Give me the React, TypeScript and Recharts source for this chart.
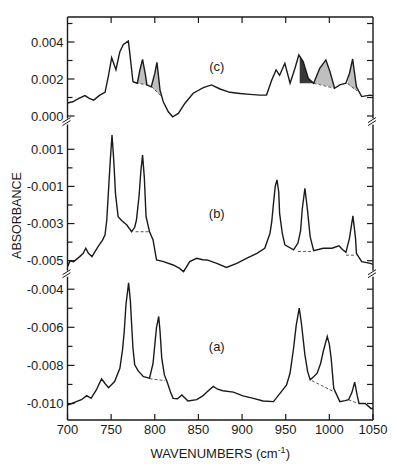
import { ComposedChart, Line, Area, XAxis, YAxis, ReferenceDot, Label } from 'recharts';

// absorbance values are in units of 0.001, wavenumbers in cm-1

// (c) top trace
const waveC = [700, 706, 713, 720, 725, 730, 737, 743, 747, 750.6, 755.5, 760, 764, 769.7, 771.6, 775, 780, 783, 786, 789, 791, 796, 800, 802.5, 806, 809.7, 815.5, 820.5, 827, 834.6, 844, 855.6, 865, 874.7, 886, 897.6, 909, 920.5, 928, 934, 939, 943, 949, 955, 960.6, 965, 970, 975.8, 982, 989, 996, 1000.7, 1006, 1012, 1019, 1023, 1026.7, 1031, 1037, 1046.5, 1050];
const absC = [0.7, 0.77, 0.95, 1.1, 0.95, 0.86, 1.13, 1.28, 2.2, 3.15, 2.5, 3.48, 3.87, 4.05, 3.3, 1.85, 1.77, 2.5, 3.06, 2.3, 1.68, 1.58, 2.3, 2.9, 1.4, 0.77, 0.23, -0.04, 0.14, 0.69, 1.23, 1.53, 1.68, 1.46, 1.28, 1.22, 1.17, 1.13, 1.13, 1.95, 2.49, 2.2, 2.85, 1.77, 2.58, 3.3, 2.94, 2.04, 1.77, 2.58, 3.03, 2.4, 1.5, 1.68, 1.77, 2.3, 3.08, 1.58, 1.05, 1.13, 1.1];

// (b) middle trace
const waveB = [700, 703, 707, 714, 718, 721, 724, 728, 735, 740, 743, 745, 747, 749, 751, 753, 755, 758, 762, 768, 773.5, 777, 779, 782, 784, 786, 788, 790, 794, 798, 802, 810, 821, 828, 833, 840, 848, 855, 860, 871, 882, 894, 905, 917, 926, 932, 934, 936, 938, 940, 942, 943, 946, 949, 959, 964, 967, 969, 972, 975, 978, 982, 993, 1003, 1011, 1015, 1019, 1023, 1027, 1030, 1031, 1037, 1047, 1050];
const absB = [-5.32, -5.0, -5.05, -4.78, -4.6, -4.33, -4.6, -4.78, -4.24, -3.9, -3.61, -2.81, -1.2, 0.4, 1.77, 0.4, -1.4, -2.63, -2.84, -3.08, -3.44, -3.2, -2.81, -1.5, -0.2, 0.69, -0.5, -2.63, -3.44, -3.88, -4.96, -5.05, -5.23, -5.4, -5.59, -5.05, -4.87, -4.95, -4.96, -5.14, -5.36, -5.14, -4.87, -4.6, -4.33, -3.52, -2.9, -1.91, -1.0, -0.65, -1.3, -2.45, -3.5, -4.15, -4.42, -4.05, -3.4, -2.2, -1.1, -2.3, -3.7, -4.46, -4.33, -4.33, -4.2, -4.4, -4.55, -3.8, -2.59, -3.8, -4.6, -5.05, -5.14, -5.2];

// (a) bottom trace
const waveA = [700, 705, 710, 716, 722, 727, 733, 739, 743, 747, 754, 760, 763, 765, 767, 770, 772, 773.5, 775, 777, 781, 787, 794, 798, 800, 802, 804.5, 806, 808, 811, 814, 818, 821, 826, 831, 838, 848, 855, 860, 867, 872, 878, 890, 901, 913, 924, 936, 945, 951, 955, 959, 962, 965.5, 968, 972, 975, 978, 982, 986, 990, 993, 997.6, 1000, 1002, 1005, 1012, 1018, 1022, 1026, 1029, 1032, 1034, 1041, 1048, 1050];
const absA = [-10.08, -10.0, -9.9, -9.8, -9.59, -9.73, -9.29, -8.71, -8.95, -9.17, -8.85, -8.15, -7.2, -6.22, -4.8, -3.67, -4.6, -5.87, -7.1, -7.97, -8.29, -8.59, -8.67, -7.9, -6.92, -6.0, -5.43, -6.2, -7.62, -8.5, -8.85, -9.4, -9.73, -9.75, -9.55, -9.87, -9.8, -9.6, -9.38, -9.1, -9.25, -9.33, -9.4, -9.6, -9.73, -9.87, -9.9, -9.38, -9.03, -8.4, -7.1, -5.9, -4.99, -5.8, -7.45, -8.3, -8.76, -8.6, -8.41, -7.9, -7.27, -6.48, -6.9, -7.6, -9.2, -9.9, -9.85, -9.8, -9.4, -8.88, -9.6, -10.0, -10.0, -10.27, -10.25];

// dashed baselines under the peaks: [wavenumber, absorbance] end points
const baseC = [[[778, 1.8], [791, 1.68]], [[796, 1.6], [808, 1.05]], [[982, 1.77], [1006, 1.5]], [[1021, 1.75], [1032, 1.35]]];
const baseB = [[[778, -3.44], [794, -3.44]], [[964, -4.5], [981, -4.5]], [[1019, -4.7], [1031, -4.7]]];
const baseA = [[[794, -8.7], [812, -8.8]], [[980, -8.8], [1006, -9.4]], [[1022, -9.8], [1033, -10.0]]];

// hatched regions in (c): [wavenumber, lower, upper]
const shadeLight = [
  [[780, 1.77, 1.77], [783, 1.75, 2.5], [786, 1.72, 3.06], [789, 1.7, 2.3], [791, 1.68, 1.68]],
  [[796, 1.58, 1.58], [800, 1.4, 2.3], [802.5, 1.3, 2.9], [806, 1.15, 1.4], [808, 1.05, 1.05]],
  [[982, 1.77, 1.77], [989, 1.71, 2.58], [996, 1.63, 3.03], [1000.7, 1.58, 2.4], [1006, 1.5, 1.5]],
  [[1021, 1.75, 1.75], [1023, 1.65, 2.3], [1026.7, 1.5, 3.08], [1029, 1.42, 2.3], [1032, 1.35, 1.35]],
];
const shadeDark = [
  [[966, 1.77, 3.2], [970, 1.77, 2.94], [975.8, 1.77, 2.04], [982, 1.77, 1.77]],
];

// left axis ticks per panel (units of 0.001) and the labelled ones
const ticksC = [0, 1, 2, 3, 4, 5];
const labelsC = [0, 2, 4];
const ticksB = [-5, -4, -3, -2, -1, 0, 1];
const labelsB = [-5, -3, -1, 1];
const ticksA = [-10, -9, -8, -7, -6, -5, -4];
const labelsA = [-10, -8, -6, -4];
const xTicks = [700, 750, 800, 850, 900, 950, 1000, 1050];

// panel labels: [wavenumber, absorbance]
const tagC = [871, 2.66];
const tagB = [871, -2.43];
const tagA = [871, -7.0];

// each panel is shifted/scaled onto one shared plot axis (0..403)
const panelC = { base: 304, k: 18.5 };
const panelB = { base: 252.15, k: 18.57 };
const panelA = { base: 207, k: 19.05 };
const toD = (p: { base: number; k: number }, v: number) => p.base + v * p.k;

const INK = '#1a1a1a';
const FONT = '"Liberation Sans", Arial, sans-serif';

const series = (w: number[], v: number[], p: any) => w.map((x, i) => ({ w: x, y: toD(p, v[i]) }));
const seg = (pts: number[][], p: any) => pts.map(([x, v]) => ({ w: x, y: toD(p, v) }));
const band = (pts: number[][], p: any) => pts.map(([x, lo, hi]) => ({ w: x, r: [toD(p, lo), toD(p, hi)] }));

type TickInfo = { d: number; label: string | null; brk?: boolean };
const tickInfo: TickInfo[] = [
  ...ticksC.map((t) => ({ d: toD(panelC, t), label: labelsC.includes(t) ? (t / 1000).toFixed(3) : null })),
  ...ticksB.map((t) => ({ d: toD(panelB, t), label: labelsB.includes(t) ? (t / 1000).toFixed(3) : null })),
  ...ticksA.map((t) => ({ d: toD(panelA, t), label: labelsA.includes(t) ? (t / 1000).toFixed(3) : null })),
  { d: toD(panelC, -0.3), label: null, brk: true },
  { d: toD(panelB, -5.7), label: null, brk: true },
];
const yTicks = tickInfo.map((t) => t.d);
const findTick = (v: number) => tickInfo.find((t) => Math.abs(t.d - v) < 1e-6);

function BreakMark({ x, y }: { x: number; y: number }) {
  return (
    <g>
      <rect x={x - 2} y={y - 3} width={4} height={6} fill="#fff" />
      <line x1={x - 5} y1={y + 1} x2={x + 3} y2={y - 4} stroke={INK} strokeWidth={1} />
      <line x1={x - 5} y1={y + 4} x2={x + 3} y2={y - 1} stroke={INK} strokeWidth={1} />
    </g>
  );
}

function LeftTick({ x, y, payload }: any) {
  const t = findTick(payload.value);
  if (!t) return null;
  if (t.brk) return <BreakMark x={x} y={y} />;
  return (
    <g>
      <line x1={x} y1={y} x2={x + (t.label ? 7 : 5)} y2={y} stroke={INK} strokeWidth={1.2} />
      {t.label && (
        <text x={x - 4} y={y} dy="0.36em" textAnchor="end" fontSize={13} fontFamily={FONT} fill={INK}>
          {t.label}
        </text>
      )}
    </g>
  );
}

function RightTick({ x, y, payload }: any) {
  const t = findTick(payload.value);
  if (!t) return null;
  if (t.brk) return <BreakMark x={x} y={y} />;
  return <line x1={x} y1={y} x2={x - 6} y2={y} stroke={INK} strokeWidth={1.2} />;
}

function BottomTick({ x, y, payload }: any) {
  return (
    <g>
      <line x1={x} y1={y} x2={x} y2={y - 6} stroke={INK} strokeWidth={1.2} />
      <text x={x} y={y + 5} dy="0.71em" textAnchor="middle" fontSize={13} fontFamily={FONT} fill={INK}>
        {payload.value}
      </text>
    </g>
  );
}

function TopTick({ x, y }: any) {
  return <line x1={x} y1={y} x2={x} y2={y + 6} stroke={INK} strokeWidth={1.2} />;
}

function XTitle({ viewBox }: any) {
  const cx = viewBox.x + viewBox.width / 2;
  return (
    <text x={cx} y={viewBox.y + 38} textAnchor="middle" fontSize={13} fontFamily={FONT} fill={INK}>
      WAVENUMBERS  (cm
      <tspan dy={-5} fontSize={9}>-1</tspan>
      <tspan dy={5}>)</tspan>
    </text>
  );
}

function YTitle({ viewBox }: any) {
  const cy = viewBox.y + viewBox.height / 2 - 3;
  return (
    <text
      x={16}
      y={cy}
      transform={`rotate(-90, 16, ${cy})`}
      textAnchor="middle"
      dy="0.36em"
      fontSize={12.5}
      fontFamily={FONT}
      fill={INK}
    >
      ABSORBANCE
    </text>
  );
}

const lineProps = { type: 'linear' as const, dataKey: 'y', dot: false, isAnimationActive: false, yAxisId: 'l' };

export default function App() {
  const traces = [
    series(waveC, absC, panelC),
    series(waveB, absB, panelB),
    series(waveA, absA, panelA),
  ];
  const bases = [
    ...baseC.map((s) => seg(s, panelC)),
    ...baseB.map((s) => seg(s, panelB)),
    ...baseA.map((s) => seg(s, panelA)),
  ];
  const tags = [
    { t: '(c)', x: tagC[0], y: toD(panelC, tagC[1]) },
    { t: '(b)', x: tagB[0], y: toD(panelB, tagB[1]) },
    { t: '(a)', x: tagA[0], y: toD(panelA, tagA[1]) },
  ];

  return (
    <div style={{ position: 'absolute', left: 0, top: 0, background: '#fff' }}>
      <ComposedChart width={397} height={472} margin={{ top: 0, right: 0, bottom: 0, left: 0 }}>
        <XAxis
          dataKey="w"
          type="number"
          domain={[700, 1050]}
          allowDataOverflow
          ticks={xTicks}
          interval={0}
          height={52}
          tickSize={0}
          tickMargin={0}
          tick={<BottomTick />}
          axisLine={{ stroke: INK, strokeWidth: 1.4 }}
        >
          <Label content={<XTitle />} />
        </XAxis>
        <XAxis
          xAxisId="top"
          orientation="top"
          dataKey="w"
          type="number"
          domain={[700, 1050]}
          allowDataOverflow
          ticks={[750, 800, 850, 900, 950, 1000]}
          interval={0}
          height={17}
          tickSize={0}
          tickMargin={0}
          tick={<TopTick />}
          axisLine={{ stroke: INK, strokeWidth: 1.4 }}
        />
        <YAxis
          yAxisId="l"
          type="number"
          domain={[0, 403]}
          allowDataOverflow
          ticks={yTicks}
          interval={0}
          width={67.5}
          tickSize={0}
          tickMargin={0}
          tick={<LeftTick />}
          axisLine={{ stroke: INK, strokeWidth: 1.4 }}
        >
          <Label content={<YTitle />} />
        </YAxis>
        <YAxis
          yAxisId="r"
          orientation="right"
          type="number"
          domain={[0, 403]}
          allowDataOverflow
          ticks={yTicks}
          interval={0}
          width={24}
          tickSize={0}
          tickMargin={0}
          tick={<RightTick />}
          axisLine={{ stroke: INK, strokeWidth: 1.4 }}
        />

        {shadeLight.map((s, i) => (
          <Area
            key={`sl${i}`}
            data={band(s, panelC)}
            dataKey="r"
            yAxisId="l"
            type="linear"
            stroke="none"
            fill="#8a8a8a"
            fillOpacity={0.55}
            isAnimationActive={false}
          />
        ))}
        {shadeDark.map((s, i) => (
          <Area
            key={`sd${i}`}
            data={band(s, panelC)}
            dataKey="r"
            yAxisId="l"
            type="linear"
            stroke="none"
            fill="#222"
            fillOpacity={0.9}
            isAnimationActive={false}
          />
        ))}

        {bases.map((b, i) => (
          <Line key={`b${i}`} {...lineProps} data={b} stroke="#444" strokeWidth={0.9} strokeDasharray="3 2" />
        ))}
        {traces.map((tr, i) => (
          <Line key={`t${i}`} {...lineProps} data={tr} stroke={INK} strokeWidth={1.4} />
        ))}

        {tags.map((g) => (
          <ReferenceDot
            key={g.t}
            yAxisId="l"
            x={g.x}
            y={g.y}
            r={0}
            label={{ value: g.t, position: 'center', fontSize: 13, fontFamily: FONT, fill: INK }}
          />
        ))}
      </ComposedChart>
    </div>
  );
}
